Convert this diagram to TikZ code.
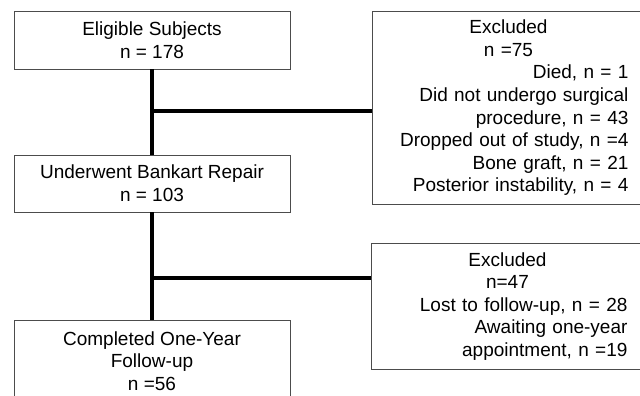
\documentclass[tikz,border=0pt]{standalone}
\usepackage{fontspec}
\setmainfont{Liberation Sans}
\usetikzlibrary{calc}

\begin{document}
\begin{tikzpicture}[x=1pt,y=-1pt,
    box/.style={draw=black!70,line width=0.9pt,rectangle,inner sep=0pt,
        font=\fontsize{19}{22.6}\selectfont,align=center},
    exclbox/.style={box,anchor=north west,text width=240pt,inner xsep=16pt},
    conn/.style={line width=3.2pt}]
    \useasboundingbox (0,0) rectangle (640,396);
    \clip (0,0) rectangle (640,396);
    % main column
    \node[box,minimum width=276pt,minimum height=58pt] (elig) at (152,40)
        {Eligible Subjects\\n = 178};
    \node[box,minimum width=276pt,minimum height=57pt] (bank) at (152,183.5)
        {Underwent Bankart Repair\\n = 103};
    \node[box,minimum width=276pt,minimum height=81pt,anchor=north] (comp) at (152,320)
        {Completed One-Year\\Follow-up\\n =56};
    % excluded boxes
    \node[exclbox,minimum height=193pt] (exclA) at (372,11)
        {\centering Excluded\\n =75\par
         \raggedleft Died, n = 1\\Did not undergo surgical\\procedure, n = 43\\
         Dropped out of study, n =4\\Bone graft, n = 21\\Posterior instability, n = 4\par};
    \node[exclbox,minimum height=126pt] (exclB) at (371,243)
        {\centering Excluded\\n=47\par
         \raggedleft Lost to follow-up, n = 28\\Awaiting one-year\\appointment, n =19\par};
    \draw[conn] (elig.south) -- (bank.north);
    \draw[conn] (bank.south) -- (comp.north);
    \coordinate (j1) at (152,111);
    \coordinate (j2) at (152,278);
    \draw[conn] (j1) -- (j1 -| exclA.west);
    \draw[conn] (j2) -- (j2 -| exclB.west);
\end{tikzpicture}
\end{document}
